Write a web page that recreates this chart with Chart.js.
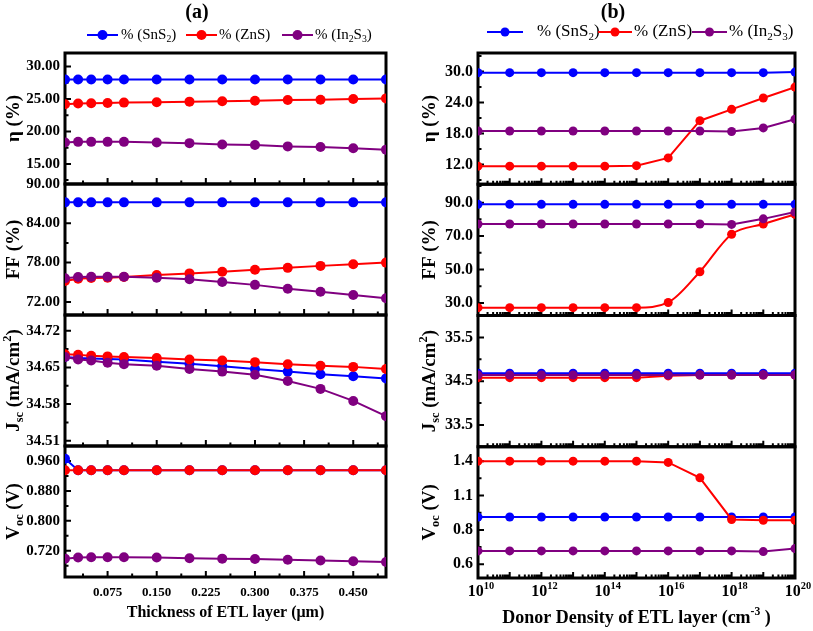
<!DOCTYPE html>
<html>
<head>
<meta charset="utf-8">
<script src="https://cdn.jsdelivr.net/npm/chart.js@4.4.0/dist/chart.umd.min.js"></script>
<style>
  body { margin: 0; background: #fff; }
  #wrap { position: relative; width: 813px; height: 631px; }
  canvas { position: absolute; top: 0; }
  #chartA { left: 0; }
  #chartB { left: 400px; }
</style>
</head>
<body>
<div id="wrap">
  <canvas id="chartA" width="405" height="631"></canvas>
  <canvas id="chartB" width="413" height="631"></canvas>
</div>
<script>
// ---- (a) thickness of ETL layer (um) ----
const thickness = [0.01, 0.03, 0.05, 0.075, 0.1, 0.15, 0.2, 0.25, 0.3, 0.35, 0.4, 0.45, 0.5];
const thicknessTicks = [0.075, 0.15, 0.225, 0.3, 0.375, 0.45];
const thicknessTickLabels = ['0.075', '0.150', '0.225', '0.300', '0.375', '0.450'];

const etaA_SnS2  = [28.0, 28.0, 28.0, 28.0, 28.0, 28.0, 28.0, 28.0, 28.0, 28.0, 28.0, 28.0, 28.0];
const etaA_ZnS   = [24.2, 24.3, 24.35, 24.4, 24.45, 24.5, 24.6, 24.65, 24.75, 24.85, 24.9, 25.0, 25.1];
const etaA_In2S3 = [18.3, 18.4, 18.4, 18.4, 18.4, 18.3, 18.2, 18.0, 17.9, 17.7, 17.6, 17.4, 17.2];
const ffA_SnS2   = [87.2, 87.2, 87.2, 87.2, 87.2, 87.2, 87.2, 87.2, 87.2, 87.2, 87.2, 87.2, 87.2];
const ffA_ZnS    = [75.2, 75.55, 75.65, 75.7, 75.8, 76.1, 76.35, 76.6, 76.9, 77.2, 77.5, 77.75, 78.0];
const ffA_In2S3  = [75.6, 75.8, 75.85, 75.85, 75.85, 75.7, 75.45, 75.05, 74.6, 74.0, 73.55, 73.05, 72.55];
const jscA_SnS2  = [34.670, 34.668, 34.667, 34.666, 34.665, 34.661, 34.657, 34.652, 34.647, 34.642, 34.637, 34.633, 34.629];
const jscA_ZnS   = [34.675, 34.674, 34.672, 34.671, 34.670, 34.668, 34.665, 34.663, 34.660, 34.656, 34.653, 34.651, 34.647];
const jscA_In2S3 = [34.670, 34.665, 34.663, 34.659, 34.656, 34.653, 34.647, 34.642, 34.636, 34.624, 34.609, 34.586, 34.557];
const vocA_SnS2  = [0.966, 0.935, 0.935, 0.935, 0.935, 0.935, 0.935, 0.935, 0.935, 0.935, 0.935, 0.935, 0.935];
const vocA_ZnS   = [0.935, 0.935, 0.935, 0.935, 0.935, 0.935, 0.935, 0.935, 0.935, 0.935, 0.935, 0.935, 0.935];
const vocA_In2S3 = [0.699, 0.702, 0.703, 0.703, 0.703, 0.702, 0.700, 0.699, 0.698, 0.696, 0.694, 0.692, 0.690];

const etaATicks = [15, 20, 25, 30];           const etaATickLabels = ['15.00', '20.00', '25.00', '30.00'];
const ffATicks  = [72, 78, 84, 90];           const ffATickLabels  = ['72.00', '78.00', '84.00', '90.00'];
const jscATicks = [34.51, 34.58, 34.65, 34.72]; const jscATickLabels = ['34.51', '34.58', '34.65', '34.72'];
const vocATicks = [0.72, 0.80, 0.88, 0.96];   const vocATickLabels = ['0.720', '0.800', '0.880', '0.960'];

// ---- (b) donor density of ETL layer (cm^-3) ----
const donorDensity = [1e10, 1e11, 1e12, 1e13, 1e14, 1e15, 1e16, 1e17, 1e18, 1e19, 1e20];
const donorTicks = [1e10, 1e11, 1e12, 1e13, 1e14, 1e15, 1e16, 1e17, 1e18, 1e19, 1e20];
// base and exponent of each tick label ('' = unlabelled tick)
const donorTickLabels = [['10', '10'], '', ['10', '12'], '', ['10', '14'], '', ['10', '16'], '', ['10', '18'], '', ['10', '20']];

const etaB_SnS2  = [29.8, 29.8, 29.8, 29.8, 29.8, 29.8, 29.8, 29.8, 29.8, 29.8, 29.9];
const etaB_ZnS   = [11.7, 11.7, 11.7, 11.7, 11.7, 11.8, 13.3, 20.5, 22.7, 24.9, 27.0];
const etaB_In2S3 = [18.5, 18.5, 18.5, 18.5, 18.5, 18.5, 18.5, 18.5, 18.4, 19.1, 20.8];
const ffB_SnS2   = [89, 89, 89, 89, 89, 89, 89, 89, 89, 89, 89];
const ffB_ZnS    = [27.2, 27.2, 27.2, 27.2, 27.2, 27.2, 30.3, 48.7, 71.1, 77.2, 83.0];
const ffB_In2S3  = [77.2, 77.2, 77.2, 77.2, 77.2, 77.2, 77.2, 77.2, 77.0, 80.3, 84.4];
const jscB_SnS2  = [34.68, 34.68, 34.68, 34.68, 34.68, 34.68, 34.68, 34.68, 34.68, 34.68, 34.68];
const jscB_ZnS   = [34.58, 34.58, 34.58, 34.58, 34.58, 34.58, 34.62, 34.64, 34.64, 34.64, 34.64];
const jscB_In2S3 = [34.64, 34.64, 34.64, 34.64, 34.64, 34.64, 34.64, 34.64, 34.64, 34.64, 34.64];
const vocB_SnS2  = [0.944, 0.944, 0.944, 0.944, 0.944, 0.944, 0.944, 0.944, 0.944, 0.944, 0.944];
const vocB_ZnS   = [1.35, 1.35, 1.35, 1.35, 1.35, 1.35, 1.341, 1.229, 0.926, 0.92, 0.92];
const vocB_In2S3 = [0.697, 0.697, 0.697, 0.697, 0.697, 0.697, 0.697, 0.697, 0.697, 0.692, 0.714];

const etaBTicks = [12, 18, 24, 30];        const etaBTickLabels = ['12.0', '18.0', '24.0', '30.0'];
const ffBTicks  = [30, 50, 70, 90];        const ffBTickLabels  = ['30.0', '50.0', '70.0', '90.0'];
const jscBTicks = [33.5, 34.5, 35.5];      const jscBTickLabels = ['33.5', '34.5', '35.5'];
const vocBTicks = [0.6, 0.85, 1.1, 1.35];  const vocBTickLabels = ['0.6', '0.8', '1.1', '1.4'];

const seriesLabels = [
  [['% (SnS', 0], ['2', 1], [')', 0]],
  [['% (ZnS)', 0]],
  [['% (In', 0], ['2', 1], ['S', 0], ['3', 1], [')', 0]]
];
const COLORS = ['#0000ff', '#ff0000', '#800080'];
const SERIF = "'Liberation Serif', 'Times New Roman', serif";

function font(size, bold) { return (bold ? 'bold ' : '') + size + 'px ' + SERIF; }

// text with sub (1) / superscript (2) pieces
function richWidth(ctx, parts, size, bold) {
  let w = 0;
  for (const [t, k] of parts) { ctx.font = font(k ? size * 0.65 : size, bold); w += ctx.measureText(t).width; }
  return w;
}
function drawRich(ctx, parts, x, y, size, bold, align) {
  let cx = align === 'left' ? x : x - richWidth(ctx, parts, size, bold) / 2;
  ctx.textBaseline = 'middle';
  ctx.textAlign = 'left';
  for (const [t, k] of parts) {
    ctx.font = font(k ? size * 0.65 : size, bold);
    const dy = k === 1 ? size * 0.3 : (k === 2 ? -size * 0.35 : 0);
    ctx.fillText(t, cx, y + dy);
    cx += ctx.measureText(t).width;
  }
}

function midMinors(ticks, min, max) {
  const step = ticks[1] - ticks[0], out = [];
  for (let v = ticks[0] - step / 2; v <= max; v += step) if (v >= min) out.push(v);
  return out;
}

function decoPlugin(cfg) {
  return {
    id: 'deco',
    beforeDatasetsDraw(chart) {
      const { ctx, chartArea: a } = chart;
      const xs = chart.scales.x;
      ctx.save();
      ctx.strokeStyle = '#000';
      cfg.panels.forEach(p => {
        const s = chart.scales[p.id];
        ctx.lineWidth = 2;
        ctx.beginPath();
        p.ticks.forEach(v => { const y = s.getPixelForValue(v); ctx.moveTo(a.left, y); ctx.lineTo(a.left + 6, y); });
        midMinors(p.ticks, p.min, p.max).forEach(v => { const y = s.getPixelForValue(v); ctx.moveTo(a.left, y); ctx.lineTo(a.left + 3.5, y); });
        cfg.xMajor.forEach(v => { const x = xs.getPixelForValue(v); ctx.moveTo(x, s.bottom); ctx.lineTo(x, s.bottom - 6); });
        cfg.xMinor.forEach(v => { const x = xs.getPixelForValue(v); ctx.moveTo(x, s.bottom); ctx.lineTo(x, s.bottom - 3.5); });
        ctx.stroke();
        ctx.lineWidth = 3;
        ctx.strokeRect(a.left, s.top, a.right - a.left, s.bottom - s.top);
      });
      ctx.restore();
    },
    afterDraw(chart) {
      const { ctx, chartArea: a } = chart;
      const xs = chart.scales.x;
      ctx.save();
      ctx.fillStyle = '#000';
      // panel y titles
      cfg.panels.forEach(p => {
        const s = chart.scales[p.id];
        ctx.save();
        ctx.translate(cfg.yTitleX, (s.top + s.bottom) / 2);
        ctx.rotate(-Math.PI / 2);
        drawRich(ctx, p.title, 0, 0, 19, true, 'center');
        ctx.restore();
      });
      // power-of-ten tick labels
      if (cfg.richTicks) {
        cfg.richTicks.labels.forEach((lab, i) => {
          if (!lab) return;
          drawRich(ctx, [[lab[0], 0], [lab[1], 2]], xs.getPixelForValue(cfg.xMajor[i]) + 3, cfg.richTicks.y, 16, true, 'center');
        });
      }
      // x title and figure tag
      drawRich(ctx, cfg.xTitle, (a.left + a.right) / 2, cfg.xTitleY, cfg.xTitleSize, true, 'center');
      drawRich(ctx, [[cfg.tag, 0]], cfg.tagX, 13, 20, true, 'center');
      // legend
      const lg = cfg.legend;
      lg.items.forEach((it, i) => {
        ctx.strokeStyle = COLORS[i];
        ctx.fillStyle = COLORS[i];
        ctx.lineWidth = 2;
        ctx.beginPath(); ctx.moveTo(it[0], lg.y); ctx.lineTo(it[1], lg.y); ctx.stroke();
        ctx.beginPath(); ctx.arc((it[0] + it[1]) / 2, lg.y, lg.r, 0, Math.PI * 2); ctx.fill();
        ctx.fillStyle = '#000';
        drawRich(ctx, seriesLabels[i], it[2], lg.y, lg.size, false, 'left');
      });
      ctx.restore();
    }
  };
}

function yAxis(p, width, size) {
  return {
    type: 'linear', position: 'left', stack: 'panels', stackWeight: 1,
    min: p.min, max: p.max,
    grid: { display: false, drawTicks: false }, border: { display: false },
    afterBuildTicks: s => { s.ticks = p.ticks.map(v => ({ value: v })); },
    afterFit: s => { s.width = width; },
    ticks: {
      autoSkip: false, padding: 5, color: '#000',
      font: { family: SERIF, size: size, weight: 'bold' },
      callback: (v, i) => p.labels[i]
    }
  };
}

function buildChart(canvasId, cfg) {
  const scales = { x: cfg.xScale };
  // define bottom panel first: the last left box is laid out at the top
  cfg.panels.slice().reverse().forEach(p => { scales[p.id] = yAxis(p, cfg.yWidth, cfg.yTickSize); });
  const datasets = [];
  cfg.panels.forEach(p => {
    p.series.forEach((vals, i) => {
      datasets.push({
        data: cfg.xValues.map((x, j) => ({ x: x, y: vals[j] })),
        xAxisID: 'x', yAxisID: p.id,
        borderColor: COLORS[i], backgroundColor: COLORS[i],
        pointBackgroundColor: COLORS[i], pointBorderColor: COLORS[i],
        borderWidth: 2, pointRadius: cfg.r, pointHoverRadius: cfg.r, pointBorderWidth: 0,
        cubicInterpolationMode: (p.smooth && p.smooth[i]) ? 'monotone' : 'default',
        order: 3 - i
      });
    });
  });
  return new Chart(document.getElementById(canvasId), {
    type: 'line',
    data: { datasets },
    options: {
      responsive: false, animation: false,
      layout: { padding: cfg.padding },
      plugins: { legend: { display: false }, title: { display: false }, tooltip: { enabled: false } },
      scales
    },
    plugins: [decoPlugin(cfg)]
  });
}

// ---- chart (a) ----
buildChart('chartA', {
  tag: '(a)', tagX: 197,
  xValues: thickness,
  padding: { left: 0, top: 53, right: 19, bottom: 0 },
  yWidth: 65, yTickSize: 15, yTitleX: 14, r: 5,
  xMajor: thicknessTicks, xMinor: midMinors(thicknessTicks, 0.01, 0.5),
  xTitle: [['Thickness of ETL layer (μm)', 0]], xTitleY: 613, xTitleSize: 16,
  legend: { y: 35, size: 15, r: 5, items: [[87, 118, 121], [186, 217, 219], [282, 313, 315]] },
  xScale: {
    type: 'linear', position: 'bottom', min: 0.01, max: 0.5,
    grid: { display: false, drawTicks: false }, border: { display: false },
    afterBuildTicks: s => { s.ticks = thicknessTicks.map(v => ({ value: v })); },
    afterFit: s => { s.height = 54; },
    ticks: { autoSkip: false, maxRotation: 0, padding: 8, color: '#000',
      font: { family: SERIF, size: 13, weight: 'bold' },
      callback: (v, i) => thicknessTickLabels[i] }
  },
  panels: [
    { id: 'yEta', min: 11.9, max: 32.1, ticks: etaATicks, labels: etaATickLabels,
      title: [['η (%)', 0]], series: [etaA_SnS2, etaA_ZnS, etaA_In2S3] },
    { id: 'yFF', min: 70, max: 90, ticks: ffATicks, labels: ffATickLabels,
      title: [['FF (%)', 0]], series: [ffA_SnS2, ffA_ZnS, ffA_In2S3] },
    { id: 'yJsc', min: 34.5, max: 34.75, ticks: jscATicks, labels: jscATickLabels,
      title: [['J', 0], ['sc', 1], [' (mA/cm', 0], ['2', 2], [')', 0]], series: [jscA_SnS2, jscA_ZnS, jscA_In2S3] },
    { id: 'yVoc', min: 0.65, max: 1.0, ticks: vocATicks, labels: vocATickLabels,
      title: [['V', 0], ['oc', 1], [' (V)', 0]], series: [vocA_SnS2, vocA_ZnS, vocA_In2S3] }
  ]
});

// ---- chart (b) ----
const logMinors = [];
for (let e = 10; e < 20; e++) for (let m = 2; m <= 9; m++) logMinors.push(m * Math.pow(10, e));

buildChart('chartB', {
  tag: '(b)', tagX: 213,
  xValues: donorDensity,
  padding: { left: 0, top: 53, right: 18, bottom: 0 },
  yWidth: 78, yTickSize: 16, yTitleX: 30, r: 4.5,
  xMajor: donorTicks, xMinor: logMinors,
  richTicks: { labels: donorTickLabels, y: 592 },
  xTitle: [['Donor Density of ETL layer (cm', 0], ['-3', 2], [' )', 0]], xTitleY: 618, xTitleSize: 18,
  legend: { y: 32, size: 17, r: 4.5, items: [[87, 123, 137], [198, 232, 234], [292, 327, 329]] },
  xScale: {
    type: 'logarithmic', position: 'bottom', min: 1e10, max: 1e20,
    grid: { display: false, drawTicks: false }, border: { display: false },
    afterBuildTicks: s => { s.ticks = donorTicks.map(v => ({ value: v })); },
    afterFit: s => { s.height = 53; },
    ticks: { display: false }
  },
  panels: [
    { id: 'yEta', min: 8.2, max: 33.6, ticks: etaBTicks, labels: etaBTickLabels,
      title: [['η (%)', 0]], series: [etaB_SnS2, etaB_ZnS, etaB_In2S3] },
    { id: 'yFF', min: 22.5, max: 101, ticks: ffBTicks, labels: ffBTickLabels,
      title: [['FF (%)', 0]], series: [ffB_SnS2, ffB_ZnS, ffB_In2S3], smooth: [false, true, false] },
    { id: 'yJsc', min: 33, max: 36, ticks: jscBTicks, labels: jscBTickLabels,
      title: [['J', 0], ['sc', 1], [' (mA/cm', 0], ['2', 2], [')', 0]], series: [jscB_SnS2, jscB_ZnS, jscB_In2S3] },
    { id: 'yVoc', min: 0.5, max: 1.455, ticks: vocBTicks, labels: vocBTickLabels,
      title: [['V', 0], ['oc', 1], [' (V)', 0]], series: [vocB_SnS2, vocB_ZnS, vocB_In2S3] }
  ]
});
</script>
</body>
</html>
